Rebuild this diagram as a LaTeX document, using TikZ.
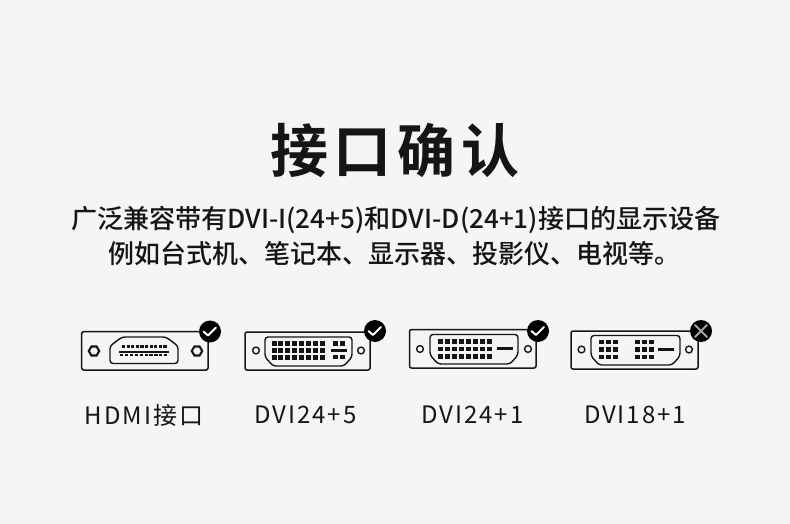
\documentclass[tikz,border=0pt]{standalone}
\usepackage{fontspec}
\setmainfont{Noto Sans CJK SC Medium}
\newfontfamily\boldcjk{Noto Sans CJK SC Bold}
\newfontfamily\spacedcjk[LetterSpace=8]{Noto Sans CJK SC}
\definecolor{bgc}{HTML}{F5F5F5}
\definecolor{inkc}{HTML}{151515}
\tikzset{
  plate/.style={draw=inkc,line width=1.5pt,rounded corners=2pt},
  shell/.style={draw=inkc,line width=1.4pt,rounded corners=3pt},
  hole/.style={draw=inkc,line width=1.4pt,fill=none},
  nut/.style={draw=inkc,line width=2.1pt},
  pin/.style={fill=inkc,draw=none},
  badge/.style={fill=black,draw=none},
  tick/.style={draw=white,line width=2pt,line cap=round,line join=round},
  cross/.style={draw=white!65!black,line width=1.8pt,line cap=round},
  caption/.style={anchor=center,inner sep=0pt,text=inkc},
  leftcaption/.style={anchor=west,inner sep=0pt,text=inkc},
}
% x1 x2 y1 y2 of a DVI shell
\newcommand{\dvishell}[4]{\draw[shell] (#1,#3) -- (#2,#3) -- (#2,#4-9) -- (#2-8,#4) -- (#1+8,#4) -- (#1,#4-9) -- cycle;}
% centre of a pin
\newcommand{\dvipin}[2]{\fill[pin] (#1-2.5,#2-2.2) rectangle (#1+2.5,#2+2.2);}
\begin{document}
\begin{tikzpicture}[x=1pt,y=-1pt]
\useasboundingbox (0,0) rectangle (790,524);
\fill[bgc] (0,0) rectangle (790,524);
\node[caption] (title) at (395,150) {\fontsize{58}{62}\selectfont\boldcjk 接\hspace{6pt}口\hspace{6pt}确\hspace{6pt}认};
\node[leftcaption] (line1) at (71,219.5) {\fontsize{26.1}{30}\selectfont 广泛兼容带有DVI-I(24+5)和DVI-D(24+1)接口的显示设备};
\node[leftcaption] (line2) at (108,254) {\fontsize{26}{30}\selectfont 例如台式机、笔记本、显示器、投影仪、电视等。};
\node[caption] (lab1) at (144,415) {\fontsize{24}{28}\selectfont\spacedcjk HDMI接口};
\node[caption] (lab2) at (305.5,415) {\fontsize{24}{28}\selectfont\spacedcjk DVI24+5};
\node[caption] (lab3) at (472.5,415) {\fontsize{24}{28}\selectfont\spacedcjk DVI24+1};
\node[caption] (lab4) at (635,415) {\fontsize{24}{28}\selectfont\spacedcjk DVI18+1};
% HDMI
\draw[plate] (81.7,331.7) rectangle (208,370);
\draw[nut] (94,351) +(0:5.2) -- +(60:5.2) -- +(120:5.2) -- +(180:5.2) -- +(240:5.2) -- +(300:5.2) -- cycle;
\draw[nut] (197,351) +(0:5.2) -- +(60:5.2) -- +(120:5.2) -- +(180:5.2) -- +(240:5.2) -- +(300:5.2) -- cycle;
\draw[shell] (122,337) -- (166,337) -- (178,346) -- (178,363.5) -- (110,363.5) -- (110,346) -- cycle;
\fill[pin] (119,351) rectangle (169,353.2);
\foreach \i in {0,...,9} {
  \fill[pin] (122+\i*4.6,345.3) rectangle +(3.2,2.6);
  \fill[pin] (120+\i*4.9,353.8) rectangle +(3.2,2.6);
}
\fill[badge] (210,331.5) circle (11);
\draw[tick] (203.5,331.5) -- (208,335.5) -- (216,327.5);
% DVI 24+5
\draw[plate] (245,332) rectangle (370,370);
\draw[hole] (256,350.5) circle (3.4);
\draw[hole] (361,350.5) circle (3.4);
\dvishell{265}{352}{337}{366}
\foreach \i in {0,...,7} \foreach \y in {343.5,350.5,357.5} \dvipin{274+\i*6.9}{\y}
\foreach \x in {335.5,342} \foreach \y in {343.5,357} \dvipin{\x}{\y}
\fill[pin] (331,349.3) rectangle (347,351.5);
\fill[badge] (375,331) circle (11);
\draw[tick] (368.5,331) -- (373,335) -- (381,327);
% DVI 24+1
\draw[plate] (409.5,329.5) rectangle (536,368);
\draw[hole] (420,349) circle (3.4);
\draw[hole] (528,349) circle (3.4);
\dvishell{430}{518}{334.5}{364}
\foreach \i in {0,...,7} \foreach \y in {341.5,349,356.5} \dvipin{440+\i*7}{\y}
\fill[pin] (497,347.3) rectangle (513,349.5);
\fill[badge] (538,331) circle (11);
\draw[tick] (531.5,331) -- (536,335) -- (544,327);
% DVI 18+1
\draw[plate] (571,331) rectangle (698,369);
\draw[hole] (581.5,349.5) circle (3.4);
\draw[hole] (689,349.5) circle (3.4);
\dvishell{591}{680}{335.5}{365}
\foreach \i in {0,...,2} \foreach \y in {342,349.5,357} {\dvipin{601.5+\i*7}{\y}\dvipin{637.5+\i*7}{\y}}
\fill[pin] (658,348.3) rectangle (674,350.5);
\fill[badge] (701,331) circle (11);
\draw[cross] (695,325) -- (707,337);
\draw[cross] (707,325) -- (695,337);
\end{tikzpicture}
\end{document}
